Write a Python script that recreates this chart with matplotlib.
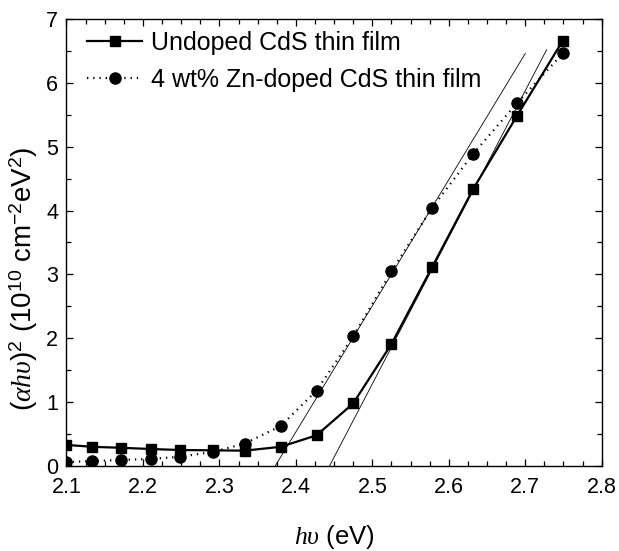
import numpy as np
import matplotlib
matplotlib.use("Agg")
import matplotlib.pyplot as plt
from matplotlib.ticker import MultipleLocator

plt.rcParams['font.family'] = ['Liberation Sans', 'DejaVu Sans']
plt.rcParams['mathtext.fontset'] = 'custom'
plt.rcParams['mathtext.rm'] = 'Liberation Sans'
plt.rcParams['mathtext.it'] = 'Liberation Serif:italic'

# photon energy (eV)
hv = [2.100, 2.134, 2.171, 2.210, 2.249, 2.291, 2.333, 2.380,
      2.427, 2.475, 2.525, 2.578, 2.632, 2.689, 2.749]
# (alpha h nu)^2 in 1e10 cm^-2 eV^2
undoped = [0.33, 0.30, 0.285, 0.266, 0.25, 0.245, 0.24, 0.30,
           0.48, 0.98, 1.91, 3.11, 4.34, 5.48, 6.66]
zn_doped = [0.06, 0.078, 0.094, 0.11, 0.145, 0.22, 0.35, 0.625,
            1.18, 2.03, 3.05, 4.04, 4.89, 5.68, 6.46]

labels = ["Undoped CdS thin film", "4 wt% Zn-doped CdS thin film"]

# linear extrapolations: x-intercept (band gap) and upper end point
eg = [2.444, 2.373]
fit_end_x = [2.728, 2.700]
fit_end_y = [6.52, 6.46]

fig = plt.figure(figsize=(6.19, 5.51), dpi=100)
ax = fig.add_axes([0.1074, 0.1543, 0.8647, 0.8112])

for e, xe, ye in zip(eg, fit_end_x, fit_end_y):
    ax.plot([e, xe], [0, ye], color='black', lw=0.6)

ax.plot(hv, undoped, color='black', lw=1.6, marker='s', ms=7.5,
        label=labels[0])
ax.plot(hv, zn_doped, color='black', lw=1.6, ls=(0, (0.6, 2.2)),
        marker='o', ms=8, label=labels[1])

ax.set_xlim(2.1, 2.8)
ax.set_ylim(0, 7)
ax.xaxis.set_major_locator(MultipleLocator(0.1))
ax.xaxis.set_minor_locator(MultipleLocator(0.025))
ax.yaxis.set_major_locator(MultipleLocator(1))
ax.yaxis.set_minor_locator(MultipleLocator(0.5))
ax.tick_params(which='both', direction='in', top=True, right=True,
               width=0.9, labelsize=15.5)
ax.tick_params(which='major', length=5)
ax.tick_params(which='minor', length=3.5)
ax.tick_params(axis='x', which='major', pad=8)
ax.tick_params(axis='y', which='major', pad=6)
for s in ax.spines.values():
    s.set_linewidth(1.0)

ax.set_xlabel(r"$h\upsilon$ (eV)", fontsize=18.5, labelpad=18)
ax.set_ylabel(r"$(\alpha h\upsilon)^2$ (10$^{10}$ cm$^{-2}$eV$^2$)",
              fontsize=20)
ax.yaxis.set_label_coords(-0.05, 0.42)

ax.legend(loc='upper left', bbox_to_anchor=(0.006, 1.012), frameon=False,
          fontsize=18, numpoints=1, handlelength=2.2, handletextpad=0.35,
          borderaxespad=0.3, labelspacing=0.5)

fig.savefig("out.png", dpi=100)
